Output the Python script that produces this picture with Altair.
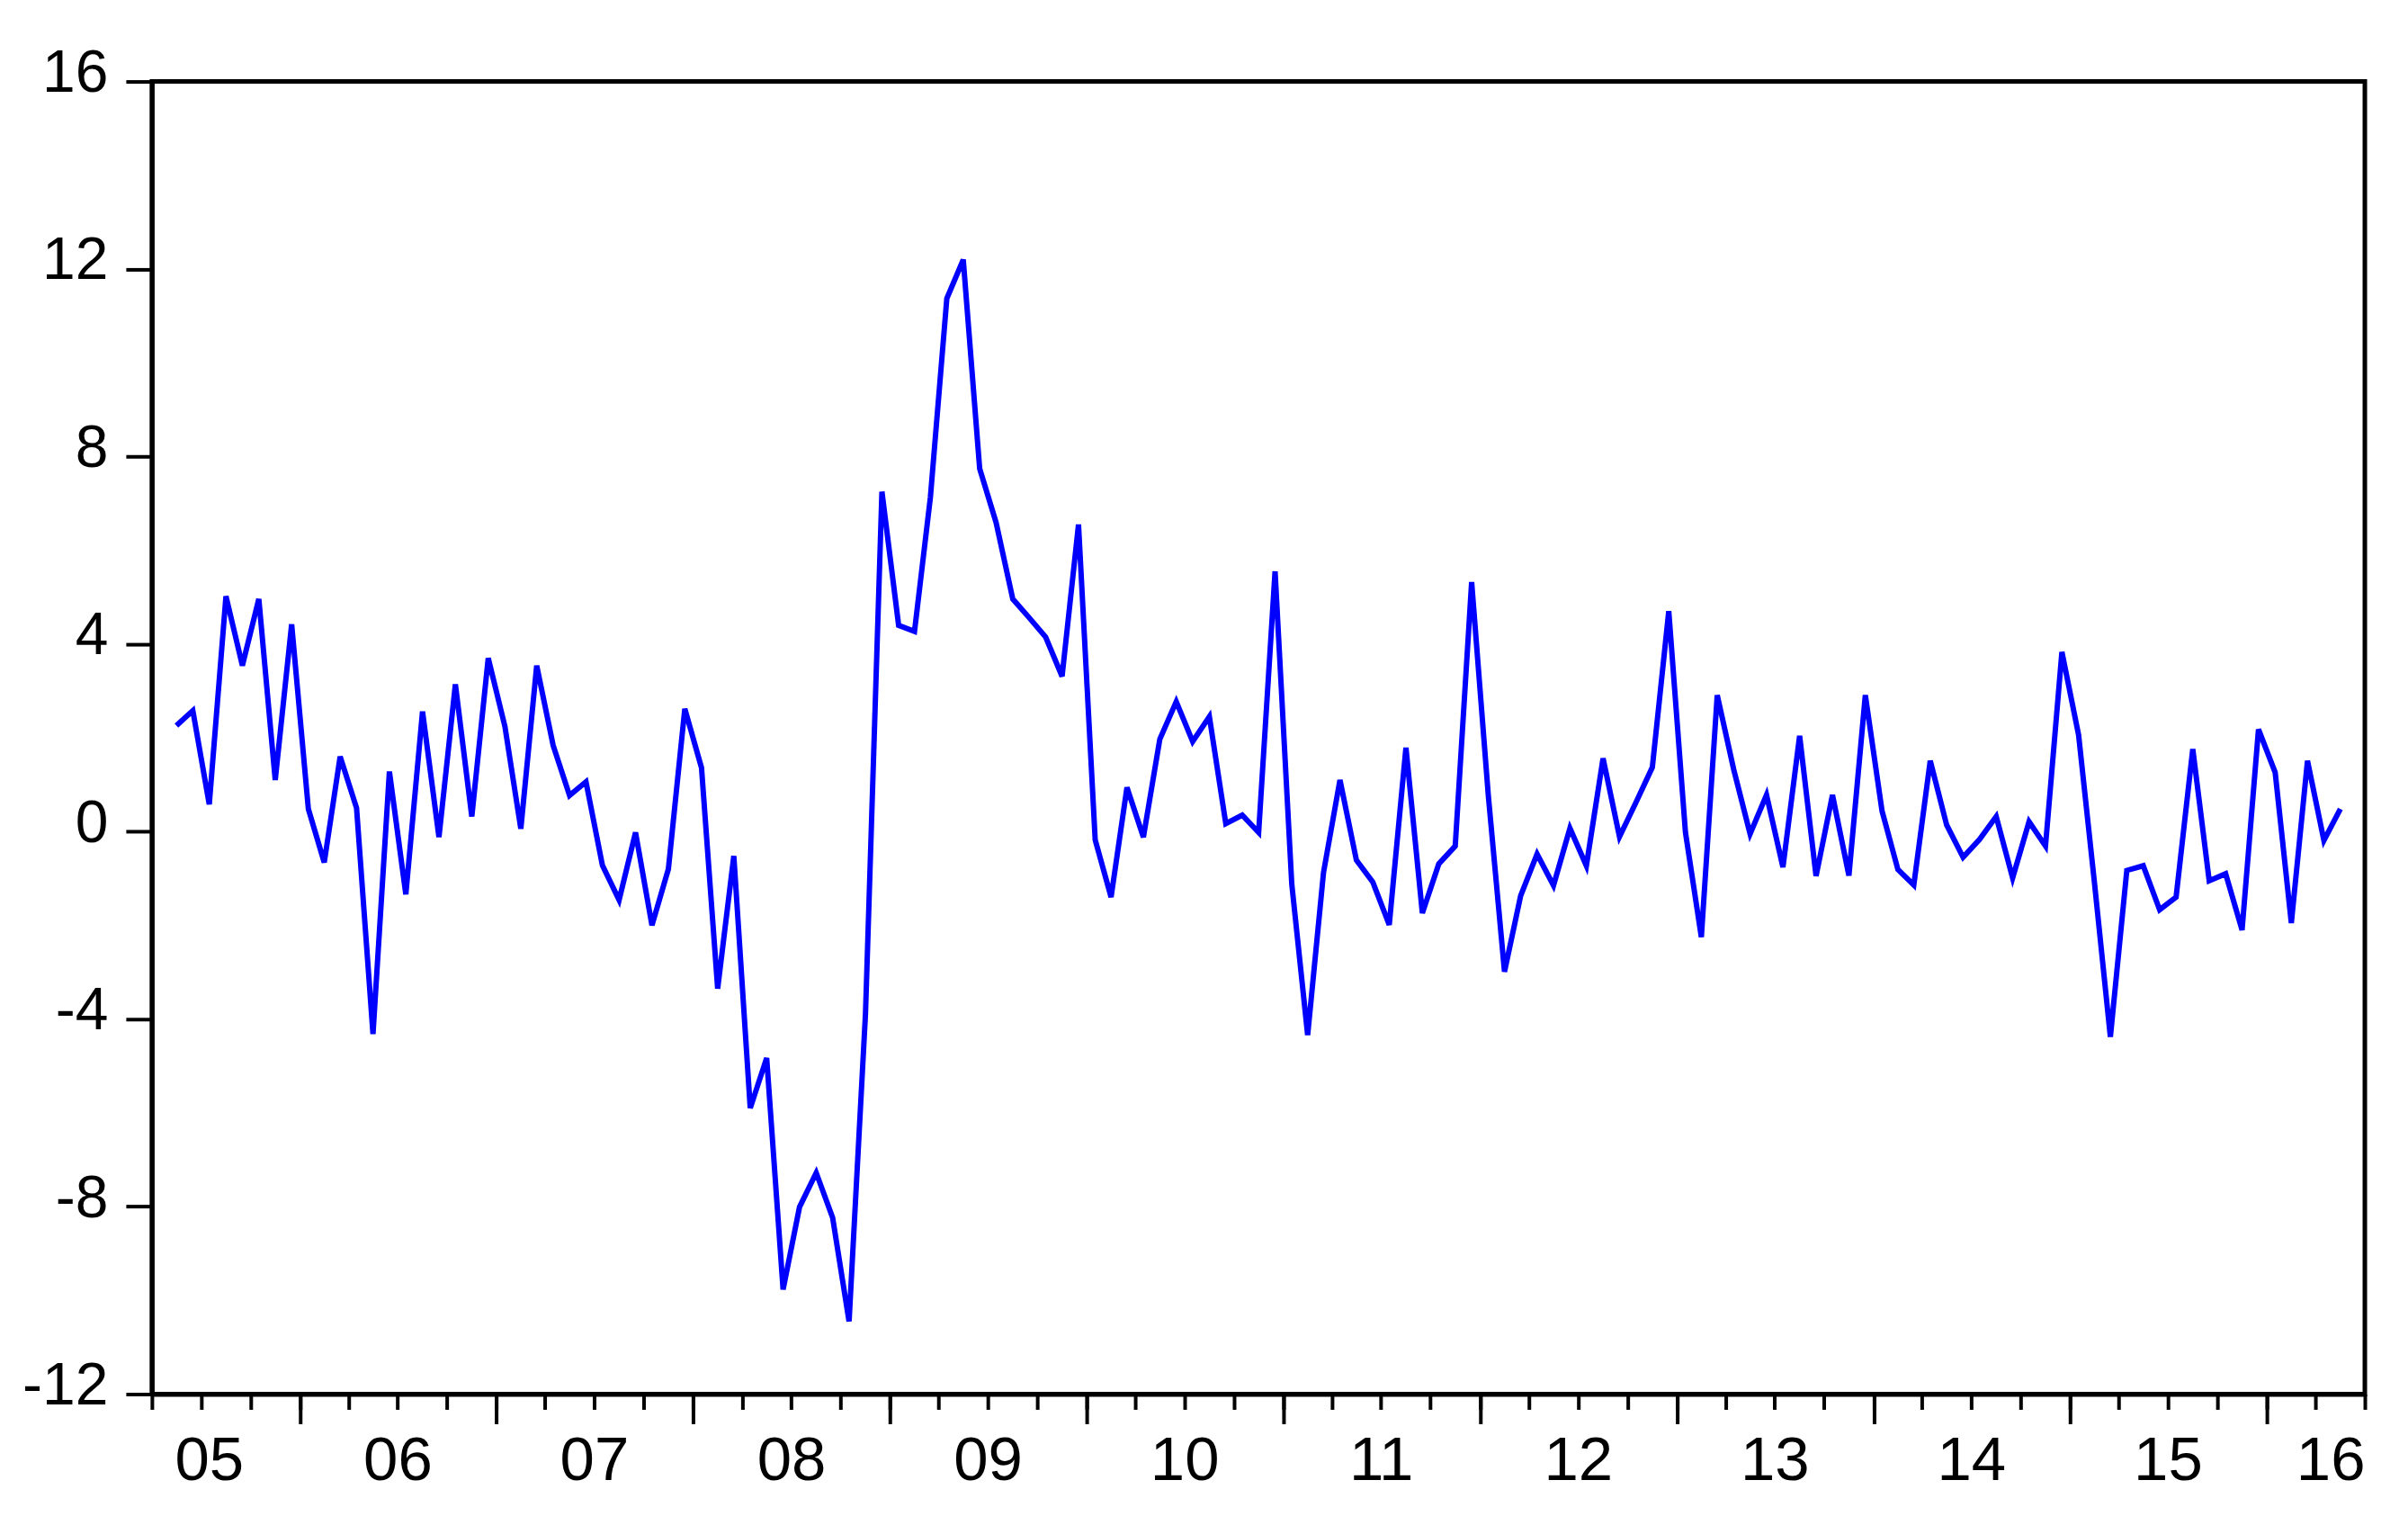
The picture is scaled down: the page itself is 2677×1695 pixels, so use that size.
import altair as alt
import pandas as pd

# Monthly observations, 2005M05 .. 2016M05
start_month = "2005-05"
end_month = "2016-05"
values = [
    2.26, 2.58, 0.58, 5.02, 3.54, 4.96, 1.10, 4.42, 0.48, -0.66,
    1.60, 0.50, -4.32, 1.28, -1.34, 2.56, -0.12, 3.14, 0.32, 3.70,
    2.24, 0.06, 3.54, 1.84, 0.77, 1.06, -0.72, -1.46, -0.02, -2.00,
    -0.80, 2.62, 1.36, -3.35, -0.52, -5.90, -4.83, -9.77, -8.01, -7.28,
    -8.24, -10.45, -3.88, 7.25, 4.40, 4.27, 7.13, 11.37, 12.20, 7.74,
    6.59, 4.96, 4.56, 4.15, 3.31, 6.55, -0.18, -1.40, 0.94, -0.12,
    1.97, 2.77, 1.92, 2.45, 0.17, 0.35, -0.02, 5.55, -1.12, -4.34,
    -0.87, 1.10, -0.61, -1.08, -1.99, 1.79, -1.74, -0.69, -0.31, 5.32,
    0.76, -2.99, -1.37, -0.48, -1.15, 0.07, -0.73, 1.56, -0.11, 0.62,
    1.37, 4.70, -0.02, -2.25, 2.91, 1.33, -0.05, 0.78, -0.76, 2.04,
    -0.95, 0.78, -0.94, 2.91, 0.44, -0.81, -1.14, 1.51, 0.14, -0.55,
    -0.17, 0.32, -0.99, 0.21, -0.31, 3.83, 2.06, -1.10, -4.38, -0.83,
    -0.73, -1.67, -1.40, 1.76, -1.05, -0.90, -2.10, 2.18, 1.26, -1.95,
    1.51, -0.19, 0.48,
]

y_ticks = [-12, -8, -4, 0, 4, 8, 12, 16]
label_years = list(range(2005, 2017))

months = pd.period_range(start_month, end_month, freq="M")
starts = months.to_timestamp(how="start")
ends = (months + 1).to_timestamp(how="start")
mids = starts + (ends - starts) / 2
dates = [d.strftime("%Y-%m-%dT%H:%M:%SZ") for d in mids]
df = pd.DataFrame({"date": dates, "value": values})

def dt(y, m, d=1):
    return alt.DateTime(year=y, month=m, date=d, utc=True)

quarter_ticks = []
y, m = 2005, 4
while (y, m) <= (2016, 7):
    quarter_ticks.append(dt(y, m))
    m += 3
    if m > 12:
        m -= 12
        y += 1
year_ticks = [dt(yy, 1) for yy in range(2006, 2017)]
label_pos = [dt(yy, 7, 16 if yy == 2005 else 1) for yy in label_years]

x_scale = alt.Scale(type="utc", domain=[dt(2005, 4), dt(2016, 7)], nice=False)
y_scale = alt.Scale(domain=[-12, 16], nice=False, zero=False)

FONT = "Liberation Sans"

y_enc = alt.Y("value:Q", scale=y_scale, title=None,
              axis=alt.Axis(values=y_ticks, tickSize=29, tickWidth=4, domainWidth=5,
                            labelFontSize=66, labelPadding=20, labelOffset=-9,
                            labelExpr="'' + datum.value", grid=False))

line = alt.Chart(df).mark_line(color="#0000FF", strokeWidth=6).encode(
    x=alt.X("date:T", scale=x_scale, title=None,
            axis=alt.Axis(orient="bottom", values=quarter_ticks, labels=False,
                          tickSize=17, tickWidth=4, domainWidth=5, grid=False)),
    y=y_enc,
)

year_axis = alt.Chart(df).mark_line(strokeOpacity=0).encode(
    x=alt.X("date:T", scale=x_scale, title=None,
            axis=alt.Axis(orient="bottom", values=year_ticks, labels=False, domain=False,
                          tickSize=33, tickWidth=4, grid=False)),
    y=y_enc,
)

label_axis = alt.Chart(df).mark_line(strokeOpacity=0).encode(
    x=alt.X("date:T", scale=x_scale, title=None,
            axis=alt.Axis(orient="bottom", values=label_pos, format="%y", domain=False,
                          ticks=False, tickSize=0, labelFontSize=69, labelPadding=40,
                          labelFlush=2, grid=False)),
    y=y_enc,
)

chart = (
    alt.layer(line, year_axis, label_axis)
    .resolve_axis(x="independent", y="shared")
    .properties(
        width=2462,
        height=1460,
        autosize=alt.AutoSizeParams(type="none"),
        padding={"left": 161, "top": 82, "right": 40, "bottom": 140},
        background="white",
    )
    .configure_view(stroke="black", strokeWidth=5)
    .configure_axis(labelFont=FONT, labelColor="black", tickColor="black",
                    domainColor="black", grid=False)
)

chart.save("out.html", embed_options={"renderer": "svg", "actions": False})
